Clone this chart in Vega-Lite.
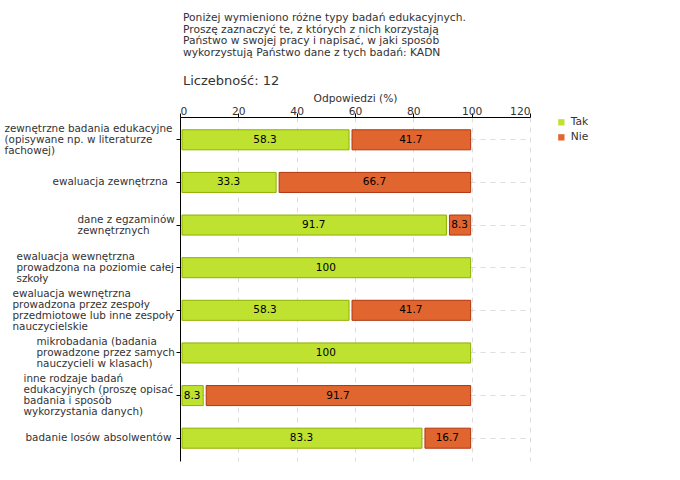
{
  "$schema": "https://vega.github.io/schema/vega-lite/v6.json",
  "autosize": {"type": "none"},
  "padding": {"left": 180, "top": 117, "right": 150, "bottom": 19},
  "width": 350,
  "height": 344,
  "background": "white",
  "title": {
    "text": ["Poniżej wymieniono różne typy badań edukacyjnych.", "Proszę zaznaczyć te, z których z nich korzystają", "Państwo w swojej pracy i napisać, w jaki sposób", "wykorzystują Państwo dane z tych badań:  KADN"],
    "subtitle": "Liczebność: 12",
    "anchor": "start",
    "frame": "group",
    "dx": 3,
    "font": "DejaVu Sans",
    "fontSize": 10.7,
    "fontWeight": "normal",
    "color": "#333",
    "lineHeight": 11.8,
    "subtitleFont": "DejaVu Sans",
    "subtitleFontSize": 13,
    "subtitleColor": "#333",
    "subtitlePadding": 16,
    "offset": 3
  },
  "data": {
    "values": [
      {"cat": "zewnętrzne badania edukacyjne|(opisywane np. w literaturze|fachowej)", "s": "Tak", "v": 58.3},
      {"cat": "zewnętrzne badania edukacyjne|(opisywane np. w literaturze|fachowej)", "s": "Nie", "v": 41.7},
      {"cat": "ewaluacja zewnętrzna", "s": "Tak", "v": 33.3},
      {"cat": "ewaluacja zewnętrzna", "s": "Nie", "v": 66.7},
      {"cat": "dane z egzaminów|zewnętrznych", "s": "Tak", "v": 91.7},
      {"cat": "dane z egzaminów|zewnętrznych", "s": "Nie", "v": 8.3},
      {"cat": "ewaluacja wewnętrzna|prowadzona na poziomie całej|szkoły", "s": "Tak", "v": 100},
      {"cat": "ewaluacja wewnętrzna|prowadzona przez zespoły|przedmiotowe lub inne zespoły|nauczycielskie", "s": "Tak", "v": 58.3},
      {"cat": "ewaluacja wewnętrzna|prowadzona przez zespoły|przedmiotowe lub inne zespoły|nauczycielskie", "s": "Nie", "v": 41.7},
      {"cat": "mikrobadania (badania|prowadzone przez samych|nauczycieli w klasach)", "s": "Tak", "v": 100},
      {"cat": "inne rodzaje badań|edukacyjnych (proszę opisać|badania i sposób|wykorzystania danych)", "s": "Tak", "v": 8.3},
      {"cat": "inne rodzaje badań|edukacyjnych (proszę opisać|badania i sposób|wykorzystania danych)", "s": "Nie", "v": 91.7},
      {"cat": "badanie losów absolwentów", "s": "Tak", "v": 83.3},
      {"cat": "badanie losów absolwentów", "s": "Nie", "v": 16.7}
    ]
  },
  "transform": [
    {"stack": "v", "groupby": ["cat"], "sort": [{"field": "s", "order": "descending"}], "as": ["x0", "x1"]},
    {"calculate": "(datum.x0 + datum.x1) / 2", "as": "mid"}
  ],
  "encoding": {
    "y": {
      "field": "cat",
      "type": "nominal",
      "sort": null,
      "title": null,
      "scale": {"paddingInner": 0.53, "paddingOuter": 0.3},
      "axis": {
        "labelExpr": "split(datum.label, '|')",
        "labelFont": "DejaVu Sans",
        "labelFontSize": 10.4,
        "labelColor": "#333",
        "labelLineHeight": 11,
        "labelLimit": 0,
        "labelAlign": "left",
        "labelPadding": {
          "condition": [
            {"test": "indexof(datum.value, 'zewnętrzne badania') == 0", "value": 172},
            {"test": "indexof(datum.value, 'ewaluacja zewnętrzna') == 0", "value": 124},
            {"test": "indexof(datum.value, 'dane z') == 0", "value": 99},
            {"test": "indexof(datum.value, 'prowadzona na') > 0", "value": 160},
            {"test": "indexof(datum.value, 'prowadzona przez') > 0", "value": 164},
            {"test": "indexof(datum.value, 'mikrobadania') == 0", "value": 140},
            {"test": "indexof(datum.value, 'inne rodzaje') == 0", "value": 153}
          ],
          "value": 151
        },
        "labelOffset": {
          "condition": [
            {"test": "length(split(datum.value, '|')) == 2", "value": -5.5},
            {"test": "length(split(datum.value, '|')) == 3", "value": -11},
            {"test": "length(split(datum.value, '|')) == 4", "value": -16.5}
          ],
          "value": 0
        },
        "tickColor": "black",
        "tickSize": 4,
        "domainColor": "black",
        "grid": true,
        "gridDash": [5, 5],
        "gridColor": "#ddd",
        "bandPosition": 0.5
      }
    }
  },
  "layer": [
    {
      "mark": {"type": "bar", "xOffset": 2, "x2Offset": -1, "strokeWidth": 1},
      "encoding": {
        "x": {
          "field": "x0",
          "type": "quantitative",
          "scale": {"domain": [0, 120], "nice": false},
          "title": "Odpowiedzi (%)",
          "axis": {
            "orient": "top",
            "values": [0, 10, 20, 30, 40, 50, 60, 70, 80, 90, 100, 110, 120],
            "labelExpr": "datum.value % 20 == 0 ? datum.label : ''",
            "labelFont": "DejaVu Sans",
            "labelFontSize": 10.7,
            "labelColor": "#333",
            "labelPadding": -3,
            "titleFont": "DejaVu Sans",
            "titleFontSize": 10.7,
            "titleFontWeight": "normal",
            "titleColor": "#333",
            "titlePadding": 2,
            "domainColor": "black",
            "tickColor": {"condition": {"test": "datum.value % 20 != 0", "value": "#e00000"}, "value": "black"},
            "tickSize": 4,
            "grid": true,
            "gridDash": [5, 5],
            "gridColor": "#ddd",
            "gridOpacity": {"condition": {"test": "datum.value % 20 != 0 || datum.value == 0", "value": 0}, "value": 1}
          }
        },
        "x2": {"field": "x1"},
        "fill": {
          "field": "s",
          "type": "nominal",
          "sort": ["Tak", "Nie"],
          "scale": {"domain": ["Tak", "Nie"], "range": ["#bee22f", "#e0652f"]},
          "legend": {
            "title": null,
            "orient": "right",
            "offset": 26,
            "symbolType": "square",
            "symbolSize": 40,
            "symbolStrokeWidth": 0,
            "labelFont": "DejaVu Sans",
            "labelFontSize": 10.7,
            "labelColor": "#333",
            "rowPadding": 3,
            "labelOffset": 4
          }
        },
        "stroke": {
          "field": "s",
          "type": "nominal",
          "scale": {"domain": ["Tak", "Nie"], "range": ["#8fb000", "#b0350f"]},
          "legend": null
        }
      }
    },
    {
      "mark": {"type": "text", "font": "DejaVu Sans", "fontSize": 10.5, "color": "black", "baseline": "middle", "align": "center"},
      "encoding": {
        "x": {"field": "mid", "type": "quantitative"},
        "text": {"field": "v", "type": "quantitative"}
      }
    }
  ],
  "config": {
    "view": {"stroke": null}
  }
}
